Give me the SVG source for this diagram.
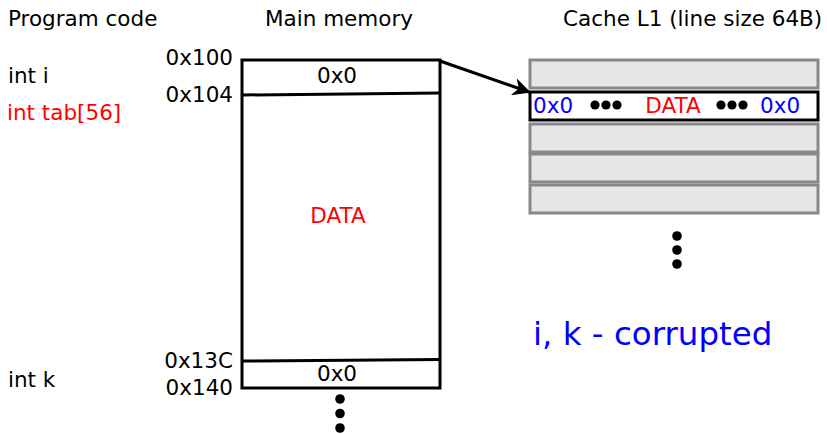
<svg xmlns="http://www.w3.org/2000/svg" width="827" height="434" viewBox="0 0 827 434">
<style>
text{font-family:"DejaVu Sans",sans-serif;font-size:21.5px;fill:#000}
.red{fill:#ff0000}
.blue{fill:#0000ff}
.mid{text-anchor:middle}
.end{text-anchor:end}
.big{font-size:32.5px}
.mem{fill:#fff;stroke:#000;stroke-width:3}
.line{fill:#e6e6e6;stroke:#888;stroke-width:3}
.hl{fill:#fff;stroke:#000;stroke-width:3}
.dot{fill:#000}
</style>
<defs>
<marker id="arr" viewBox="0 0 10 10" refX="9" refY="5" markerWidth="6" markerHeight="6" markerUnits="strokeWidth" orient="auto">
<path d="M0,0 L10,5 L0,10 L3,5 z" fill="#000"/>
</marker>
</defs>
<rect width="827" height="434" fill="#fff"/>
<g id="titles">
<text x="8" y="26">Program code</text>
<text x="265" y="26">Main memory</text>
<text x="563" y="26">Cache L1 (line size 64B)</text>
</g>
<g id="program-code">
<text x="8" y="83">int i</text>
<text x="7" y="120" class="red">int tab[56]</text>
<text x="8" y="387">int k</text>
</g>
<g id="addresses">
<text x="233" y="65" class="end">0x100</text>
<text x="233" y="102" class="end">0x104</text>
<text x="233" y="368" class="end">0x13C</text>
<text x="233" y="395" class="end">0x140</text>
</g>
<g id="main-memory">
<rect x="242" y="60" width="198" height="328" class="mem"/>
<path d="M242,95 Q340,94 440,93" fill="none" stroke="#000" stroke-width="3"/>
<path d="M242,361 Q340,360.5 440,359.5" fill="none" stroke="#000" stroke-width="3"/>
<text x="337" y="83" class="mid">0x0</text>
<text x="338" y="223" class="mid red">DATA</text>
<text x="337" y="381" class="mid">0x0</text>
<circle cx="340" cy="399" r="4.8" class="dot"/>
<circle cx="340" cy="413.5" r="4.8" class="dot"/>
<circle cx="340" cy="428" r="4.8" class="dot"/>
</g>
<g id="cache">
<rect x="530" y="60" width="288" height="28" class="line"/>
<rect x="530" y="124" width="288" height="28" class="line"/>
<rect x="530" y="154" width="288" height="28" class="line"/>
<rect x="530" y="185" width="288" height="28" class="line"/>
<rect x="530" y="92" width="288" height="28" class="hl"/>
<text x="533" y="113" class="blue">0x0</text>
<circle cx="595" cy="105" r="4.6" class="dot"/>
<circle cx="606" cy="105" r="4.6" class="dot"/>
<circle cx="617" cy="105" r="4.6" class="dot"/>
<text x="673" y="113" class="mid red">DATA</text>
<circle cx="721" cy="105" r="4.6" class="dot"/>
<circle cx="732" cy="105" r="4.6" class="dot"/>
<circle cx="743" cy="105" r="4.6" class="dot"/>
<text x="760" y="113" class="blue">0x0</text>
<circle cx="677" cy="236" r="4.8" class="dot"/>
<circle cx="677" cy="250" r="4.8" class="dot"/>
<circle cx="677" cy="264" r="4.8" class="dot"/>
</g>
<g id="note">
<text x="533" y="345" class="blue big">i, k - corrupted</text>
</g>
<g id="connectors">
<line x1="440" y1="61" x2="529" y2="92" stroke="#000" stroke-width="3" marker-end="url(#arr)"/>
</g>
</svg>
